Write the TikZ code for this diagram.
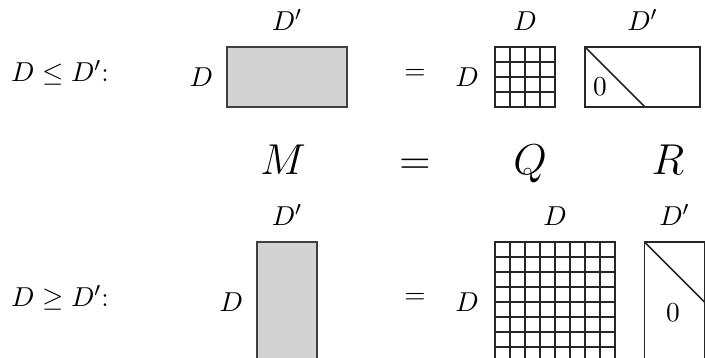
\documentclass[tikz,border=0pt]{standalone}
\usepackage{amssymb}
\usetikzlibrary{positioning}
\definecolor{fillgray}{RGB}{211,211,211}
\tikzset{
  matbox/.style={draw=black!75, fill=fillgray, line width=0.6pt, inner sep=0pt, outer sep=0pt},
  openbox/.style={draw=black!85, line width=0.6pt, inner sep=0pt, outer sep=0pt},
  lbl/.style={font=\fontsize{11}{13}\selectfont},
  biglbl/.style={font=\fontsize{17}{20}\selectfont, anchor=base},
}

\begin{document}
\begin{tikzpicture}[x=0.4pt, y=-0.4pt]
    \useasboundingbox (0,0) rectangle (705,358);
    \clip (0,0) rectangle (705,358);

    % case D <= D'
    \node (caseone) [lbl] at (60,73) {$D \leq D'$:};
    \node (mone) [matbox, minimum width=48pt, minimum height=24pt] at (287,77) {};
    \node (mtopone) [lbl, above=3pt of mone] {$D'$};
    \node (mleftone) [lbl, left=2pt of mone] {$D$};
    \node (eqone) [lbl] at (415,74) {$=$};
    \node (qone) [openbox, minimum width=24pt, minimum height=24pt] at (525,77) {};
    \draw [black!85, line width=0.5pt, shift={(qone.south west)}, step=6pt] (0,0) grid (24pt,24pt);
    \node (qtopone) [lbl, above=3pt of qone] {$D$};
    \node (qleftone) [lbl, left=3pt of qone] {$D$};
    \node (rone) [openbox, minimum width=46pt, minimum height=24pt] at (642.5,77) {};
    \draw [black!85, line width=0.6pt] (rone.north west) -- ([xshift=24pt]rone.south west);
    \node (rtopone) [lbl, above=3pt of rone] {$D'$};
    \node (zeroone) [lbl] at (600,87) {$0$};

    % M = Q R
    \node (mname) [biglbl] at (283,175) {$M$};
    \node (eqname) [biglbl] at (415,175) {$=$};
    \node (qname) [biglbl] at (530,175) {$Q$};
    \node (rname) [biglbl] at (668,175) {$R$};

    % case D >= D'
    \node (casetwo) [lbl] at (60,298) {$D \geq D'$:};
    \node (mtwo) [matbox, minimum width=24pt, minimum height=48pt] at (287,302) {};
    \node (mtoptwo) [lbl, above=3pt of mtwo] {$D'$};
    \node (mlefttwo) [lbl, left=2pt of mtwo] {$D$};
    \node (eqtwo) [lbl] at (415,298) {$=$};
    \node (qtwo) [openbox, minimum width=48pt, minimum height=48pt] at (555,302) {};
    \draw [black!85, line width=0.5pt, shift={(qtwo.south west)}, step=6pt] (0,0) grid (48pt,48pt);
    \node (qtoptwo) [lbl, above=3pt of qtwo] {$D$};
    \node (qlefttwo) [lbl, left=3pt of qtwo] {$D$};
    \node (rtwo) [openbox, minimum width=24pt, minimum height=48pt] at (674.5,302) {};
    \draw [black!85, line width=0.6pt] (rtwo.north west) -- (rtwo.east);
    \node (rtoptwo) [lbl, above=3pt of rtwo] {$D'$};
    \node (zerotwo) [lbl] at (673,313) {$0$};
\end{tikzpicture}
\end{document}
